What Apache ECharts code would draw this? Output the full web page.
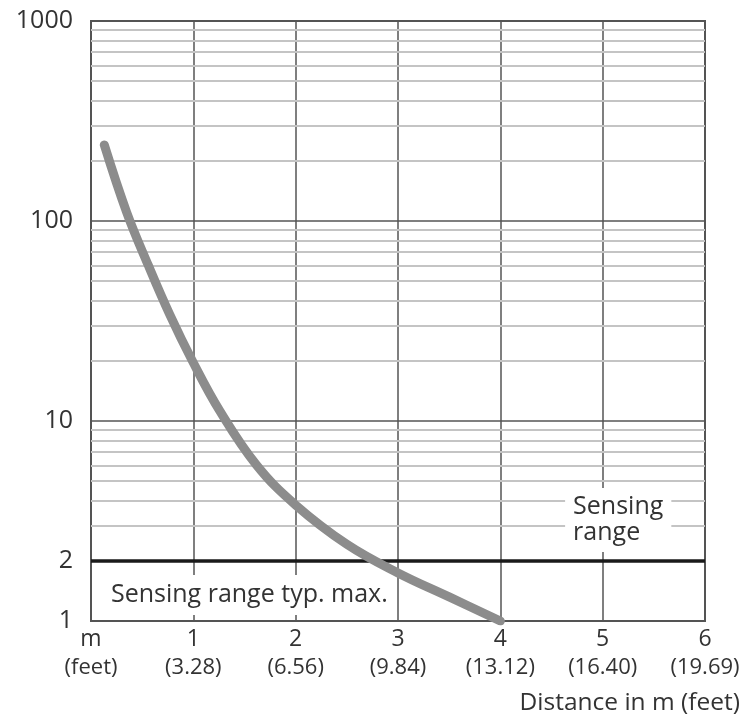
<!DOCTYPE html>
<html>
<head>
<meta charset="utf-8">
<script src="https://cdn.jsdelivr.net/npm/echarts@6/dist/echarts.min.js"></script>
<style>html,body{margin:0;padding:0;background:#fff;}#c{width:746px;height:721px;}</style>
</head>
<body>
<div id="c"></div>
<script>
// ---- data ----
const xTicks = [0, 1, 2, 3, 4, 5, 6];
const xTickMeters = ['m', '1', '2', '3', '4', '5', '6'];
const xTickFeet = ['(feet)', '(3.28)', '(6.56)', '(9.84)', '(13.12)', '(16.40)', '(19.69)'];
const yTickLabels = [1, 2, 10, 100, 1000];
const minorGridValues = [3, 4, 5, 6, 7, 8, 9, 20, 30, 40, 50, 60, 70, 80, 90, 200, 300, 400, 500, 600, 700, 800, 900];
const thresholdValue = [2];
const curveX = [0.13, 0.35, 0.56, 0.77, 0.99, 1.26, 1.62, 2.0, 2.5, 3.0, 3.5, 4.0];
const curveY = [240, 110, 60, 34, 20, 11.2, 6.0, 3.8, 2.42, 1.74, 1.32, 1.0];
const labelTexts = ['Sensing range typ. max.', 'Sensing\nrange'];
const labelCoords = [[0.156, 1.35], [4.633, 3.2]];

const FONT = 'Open Sans';
const chart = echarts.init(document.getElementById('c'));
const option = {
  animation: false,
  textStyle: { fontFamily: FONT },
  title: {
    text: 'Distance in m (feet)', right: 1, top: 686,
    textStyle: { fontSize: 24.5, fontWeight: 'normal', color: '#333', fontFamily: FONT }
  },
  grid: { left: 91, right: 41, top: 21, bottom: 100, show: true, borderColor: '#555', borderWidth: 2, z: 3 },
  xAxis: {
    type: 'value', min: 0, max: 6, interval: 1, z: 3,
    axisLine: { show: false }, axisTick: { show: false },
    splitLine: { show: true, lineStyle: { color: '#555', width: 1.5 } },
    axisLabel: {
      margin: 4,
      formatter: function (v) {
        const i = xTicks.indexOf(v);
        if (i < 0) return '';
        return '{a|' + xTickMeters[i] + '}\n{b|' + xTickFeet[i] + '}';
      },
      rich: {
        a: { fontSize: 23, lineHeight: 29, color: '#333', fontFamily: FONT },
        b: { fontSize: 22, lineHeight: 27, color: '#333', fontFamily: FONT }
      }
    }
  },
  yAxis: {
    type: 'log', logBase: 10, min: 1, max: 1000, z: 3,
    axisLine: { show: false }, axisTick: { show: false },
    splitLine: { show: true, lineStyle: { color: '#555', width: 1.5 } },
    axisLabel: {
      customValues: yTickLabels, fontSize: 25, color: '#333', margin: 18, fontFamily: FONT,
      formatter: function (v) { return String(Math.round(v)); }
    }
  },
  series: [
    {
      type: 'line', data: [], z: 1, silent: true,
      markLine: {
        silent: true, symbol: 'none', animation: false,
        label: { show: false },
        lineStyle: { color: '#c4c4c4', width: 2, type: 'solid' },
        data: minorGridValues.map(v => ({ yAxis: v }))
      }
    },
    {
      type: 'line', data: [], z: 4, silent: true,
      markLine: {
        silent: true, symbol: 'none', animation: false,
        label: { show: false },
        lineStyle: { color: '#1a1a1a', width: 3.5, type: 'solid' },
        data: thresholdValue.map(v => ({ yAxis: v }))
      }
    },
    {
      type: 'scatter', data: [], z: 5, silent: true,
      markPoint: {
        symbol: 'circle', symbolSize: 0, animation: false,
        data: labelTexts.map((t, i) => ({
          coord: labelCoords[i],
          value: t,
          label: {
            show: true, formatter: t, position: [0, 0], align: 'left', verticalAlign: 'middle',
            fontSize: 25, lineHeight: 26, color: '#333', fontFamily: FONT,
            backgroundColor: '#fff', padding: i === 0 ? [7, 4] : [6, 8]
          }
        }))
      }
    },
    {
      type: 'line', z: 6, smooth: 0.4, symbol: 'none', silent: true,
      data: curveX.map((x, i) => [x, curveY[i]]),
      lineStyle: { color: '#8c8c8c', width: 9, cap: 'round', join: 'round' }
    }
  ]
};
chart.setOption(option);
</script>
</body>
</html>
